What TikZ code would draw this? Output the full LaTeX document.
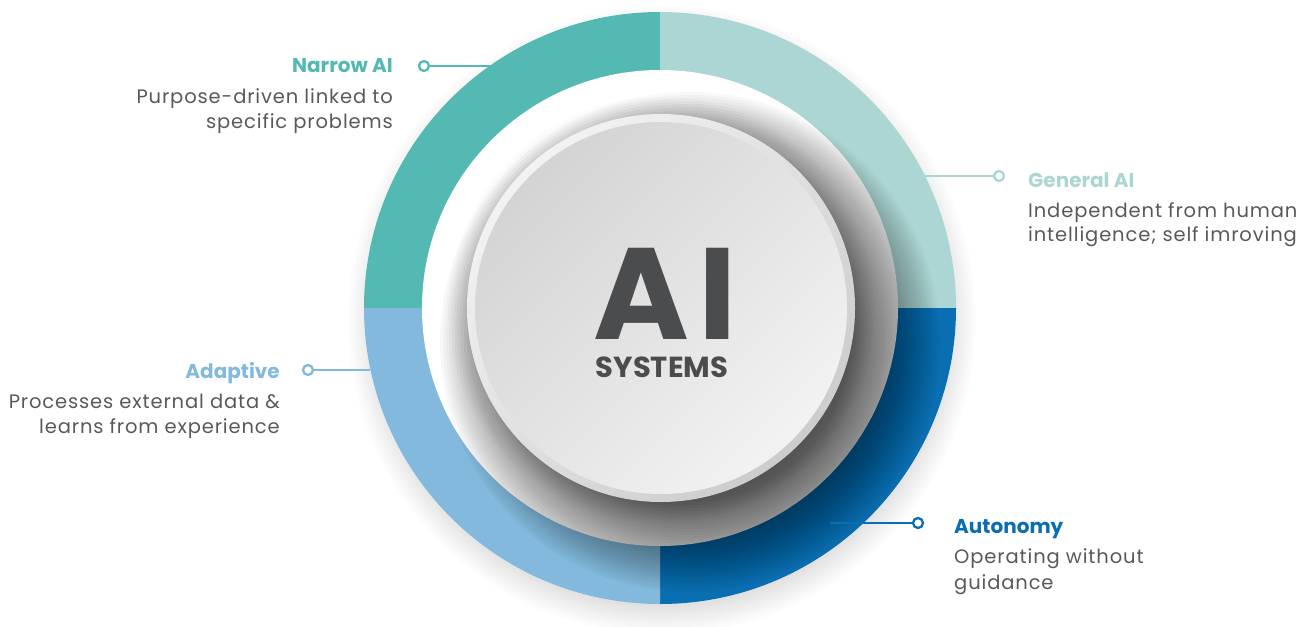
\documentclass[tikz,border=0pt]{standalone}
\usepackage{fontspec}
\setmainfont{Poppins}
\begin{document}
\begin{tikzpicture}[x=1pt,y=1pt]
\definecolor{narrow}{HTML}{53B9B2}
\definecolor{general}{HTML}{ACD6D4}
\definecolor{autonomy}{HTML}{0A6FB2}
\definecolor{adaptive}{HTML}{82B9DC}
\definecolor{bodytext}{HTML}{58595B}
\definecolor{centertext}{HTML}{4B4C4E}
\tikzset{
  title/.style={font=\fontsize{20}{24}\selectfont\bfseries, inner sep=0pt, text=#1},
  bodyline/.style={font=\fontsize{19.5}{24}\selectfont\addfontfeatures{LetterSpace=4.5}, inner sep=0pt, text=bodytext},
  pinmark/.style={circle, draw=#1, line width=2.3pt, fill=white, minimum size=10pt, inner sep=0pt},
  lead/.style={draw=#1, line width=2pt},
}
% soft round shadow: centre, radius, blur width, opacity per layer, layers
\newcommand\softshadow[5]{%
  \foreach \k in {0,...,#5}{
    \fill[black, opacity=#4] #1 circle ({#2 + #3/2 - #3*\k/#5});
  }%
}
\useasboundingbox (0,0) rectangle (1305,-626);

% faint shadow under the ring
\softshadow{(662,-320)}{296}{36}{0.012}{12}

% the four ring segments
\coordinate (c) at (660,-308);
\fill[narrow]   (c) -- ++(-296,0) arc[start angle=180, end angle=90,  radius=296] -- cycle;
\fill[general]  (c) -- ++(0,296)  arc[start angle=90,  end angle=0,   radius=296] -- cycle;
\fill[autonomy] (c) -- ++(296,0)  arc[start angle=0,   end angle=-90, radius=296] -- cycle;
\fill[adaptive] (c) -- ++(0,-296) arc[start angle=-90, end angle=-180,radius=296] -- cycle;

% white plate inside the ring
\fill[white] (c) circle (238);

% shadow cast by the raised button
\softshadow{(690,-342)}{205}{90}{0.029}{30}
\softshadow{(661,-310)}{198}{30}{0.01}{10}

% the button: rim and face
\shade[top color=white!95!black, bottom color=white!80!black, shading angle=45] (661,-308) circle (194);
\shade[top color=white!83!black, bottom color=white!95!black, shading angle=45] (661,-308) circle (186);

% central title
\node[font=\fontsize{130}{130}\selectfont\bfseries, text=centertext, anchor=base, inner sep=0pt, text depth=0pt] (ai) at (665,-339) {A\kern9pt I};
\node[font=\fontsize{29}{30}\selectfont\bfseries, text=centertext, anchor=base, inner sep=0pt] (sys) at (662,-377) {SYSTEMS};

% Narrow AI
\node[pinmark=narrow] (p1) at (424,-66) {};
\coordinate (e1) at (490,-66);
\draw[lead=narrow] (p1) -- (e1);
\node[title=narrow, anchor=base east] (t1) at (393,-73) {Narrow AI};
\node[bodyline, anchor=base east] (b1a) at (393,-103) {Purpose-driven linked to};
\node[bodyline, anchor=base east] (b1b) at (393,-128) {specific problems};

% General AI
\node[pinmark=general] (p2) at (999,-176) {};
\coordinate (e2) at (925,-176);
\draw[lead=general] (p2) -- (e2);
\node[title=general, anchor=base west] (t2) at (1028,-187) {General AI};
\node[bodyline, anchor=base west] (b2a) at (1028,-217) {Independent from human};
\node[bodyline, anchor=base west] (b2b) at (1028,-241) {intelligence; self imroving};

% Adaptive
\node[pinmark=adaptive] (p3) at (308,-370) {};
\coordinate (e3) at (370,-370);
\draw[lead=adaptive] (p3) -- (e3);
\node[title=adaptive, anchor=base east] (t3) at (280,-378) {Adaptive};
\node[bodyline, anchor=base east] (b3a) at (280,-408) {Processes external data \&};
\node[bodyline, anchor=base east] (b3b) at (280,-433) {learns from experience};

% Autonomy
\node[pinmark=autonomy] (p4) at (918,-523) {};
\coordinate (e4) at (830,-523);
\draw[lead=autonomy] (p4) -- (e4);
\node[title=autonomy, anchor=base west] (t4) at (954,-533) {Autonomy};
\node[bodyline, anchor=base west] (b4a) at (954,-563) {Operating without};
\node[bodyline, anchor=base west] (b4b) at (954,-589) {guidance};
\end{tikzpicture}
\end{document}
